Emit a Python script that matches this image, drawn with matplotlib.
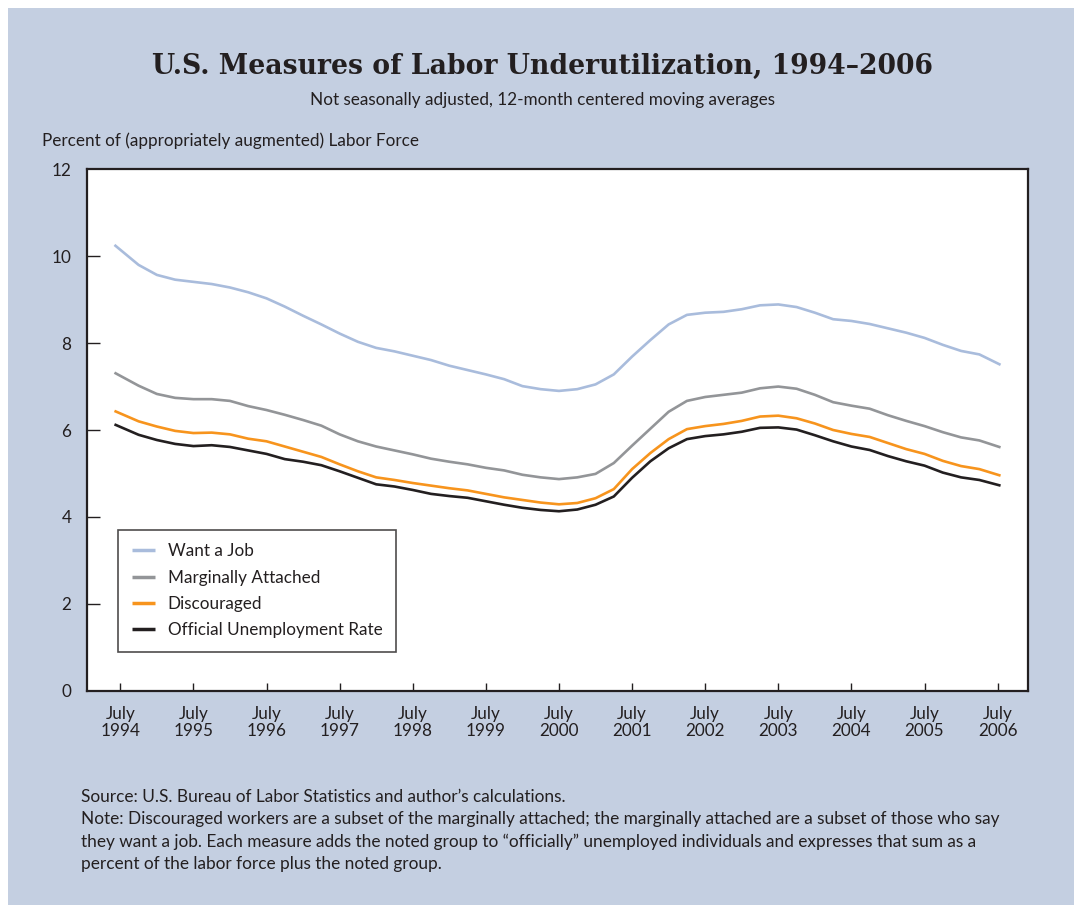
import matplotlib
matplotlib.use("Agg")
import matplotlib.pyplot as plt
from matplotlib.patches import Rectangle

# dates as fractional years (mid-1994 to mid-2006), values in percent
dates = [1994.42, 1994.75, 1995.00, 1995.25, 1995.50, 1995.75, 1996.00, 1996.25,
         1996.50, 1996.75, 1997.00, 1997.25, 1997.50, 1997.75, 1998.00, 1998.25,
         1998.50, 1998.75, 1999.00, 1999.25, 1999.50, 1999.75, 2000.00, 2000.25,
         2000.50, 2000.75, 2001.00, 2001.25, 2001.50, 2001.75, 2002.00, 2002.25,
         2002.50, 2002.75, 2003.00, 2003.25, 2003.50, 2003.75, 2004.00, 2004.25,
         2004.50, 2004.75, 2005.00, 2005.25, 2005.50, 2005.75, 2006.00, 2006.25,
         2006.54]

want_job = [10.26, 9.80, 9.57, 9.46, 9.41, 9.36, 9.28, 9.17,
            9.03, 8.84, 8.63, 8.43, 8.22, 8.03, 7.89, 7.81,
            7.71, 7.61, 7.48, 7.38, 7.28, 7.17, 7.01, 6.94,
            6.90, 6.94, 7.05, 7.28, 7.69, 8.07, 8.43, 8.65,
            8.70, 8.72, 8.78, 8.87, 8.89, 8.83, 8.70, 8.55,
            8.51, 8.44, 8.34, 8.24, 8.12, 7.96, 7.82, 7.74,
            7.50]

marginal = [7.32, 7.02, 6.83, 6.74, 6.71, 6.71, 6.67, 6.55,
            6.46, 6.35, 6.23, 6.10, 5.90, 5.74, 5.62, 5.53,
            5.44, 5.34, 5.27, 5.21, 5.13, 5.07, 4.97, 4.91,
            4.87, 4.91, 4.99, 5.24, 5.64, 6.03, 6.42, 6.67,
            6.76, 6.81, 6.86, 6.96, 7.00, 6.95, 6.81, 6.64,
            6.56, 6.49, 6.34, 6.21, 6.09, 5.95, 5.83, 5.76,
            5.60]

discouraged = [6.44, 6.20, 6.08, 5.98, 5.93, 5.94, 5.90, 5.80,
               5.74, 5.62, 5.50, 5.38, 5.21, 5.05, 4.91, 4.85,
               4.78, 4.72, 4.66, 4.61, 4.53, 4.45, 4.39, 4.33,
               4.29, 4.32, 4.43, 4.64, 5.10, 5.47, 5.79, 6.02,
               6.09, 6.14, 6.21, 6.31, 6.33, 6.27, 6.15, 6.00,
               5.91, 5.84, 5.70, 5.56, 5.45, 5.29, 5.17, 5.10,
               4.95]

official = [6.13, 5.89, 5.77, 5.68, 5.63, 5.65, 5.61, 5.53,
            5.45, 5.33, 5.27, 5.19, 5.05, 4.90, 4.75, 4.70,
            4.62, 4.53, 4.48, 4.44, 4.36, 4.28, 4.21, 4.16,
            4.13, 4.17, 4.28, 4.47, 4.90, 5.28, 5.58, 5.79,
            5.86, 5.90, 5.96, 6.05, 6.06, 6.01, 5.88, 5.74,
            5.62, 5.54, 5.40, 5.28, 5.18, 5.02, 4.91, 4.85,
            4.72]

series_names = ["Want a Job", "Marginally Attached", "Discouraged",
                "Official Unemployment Rate"]
series_colors = ["#a9bcdc", "#939598", "#f7941d", "#231f20"]

tick_years = list(range(1994, 2007))
tick_labels = ["July\n%d" % y for y in tick_years]

bg = "#c4cfe1"
ink = "#231f20"
sans = ["Lato", "DejaVu Sans"]
fs = 12.3

fig = plt.figure(figsize=(10.74, 9.05), dpi=100, facecolor="white")
fig.patches.append(Rectangle((8 / 1074, 0), 1, (905 - 8) / 905,
                             transform=fig.transFigure, facecolor=bg,
                             edgecolor="none", zorder=-10))

ax = fig.add_axes([0.0807, 0.2368, 0.8768, 0.5761])
ax.set_facecolor("white")

for vals, name, col in zip([want_job, marginal, discouraged, official],
                           series_names, series_colors):
    ax.plot(dates, vals, color=col, lw=1.9, label=name, solid_capstyle="butt")

ax.set_xlim(1994.04, 2006.92)
ax.set_ylim(0, 12)
ax.set_xticks([y + 0.5 for y in tick_years])
ax.set_xticklabels(tick_labels, family=sans, fontsize=fs, color=ink,
                   linespacing=1.1)
ax.set_yticks([0, 2, 4, 6, 8, 10, 12])
ax.set_yticklabels(["0", "2", "4", "6", "8", "10", "12"], family=sans,
                   fontsize=fs, color=ink)
ax.tick_params(axis="x", direction="in", length=6, width=1, color=ink, pad=11)
ax.tick_params(axis="y", direction="in", length=9, width=1, color=ink, pad=11)
# no tick marks at 0 and 12, they sit on the frame
yt = ax.yaxis.get_major_ticks()
yt[0].tick1line.set_visible(False)
yt[-1].tick1line.set_visible(False)
for s in ax.spines.values():
    s.set_linewidth(1.6)
    s.set_color(ink)

leg = ax.legend(loc="lower left", bbox_to_anchor=(0.0336, 0.0748),
                borderaxespad=0, frameon=True, fancybox=False,
                prop={"family": sans, "size": fs}, handlelength=1.35,
                handletextpad=0.75, labelspacing=0.6, borderpad=0.8)
leg.get_frame().set_edgecolor(ink)
leg.get_frame().set_linewidth(1.2)
for t in leg.get_texts():
    t.set_color(ink)
for h in leg.get_lines():
    h.set_linewidth(2.5)

fig.text(543 / 1074, 1 - 66 / 905,
         "U.S. Measures of Labor Underutilization, 1994\u20132006",
         ha="center", va="center", family="DejaVu Serif", weight="bold",
         fontsize=19.2, color=ink)
fig.text(543 / 1074, 1 - 100 / 905,
         "Not seasonally adjusted, 12-month centered moving averages",
         ha="center", va="center", family=sans, fontsize=fs, color=ink)
fig.text(42 / 1074, 1 - 141 / 905,
         "Percent of (appropriately augmented) Labor Force",
         ha="left", va="center", family=sans, fontsize=fs, color=ink)

notes = [
    "Source: U.S. Bureau of Labor Statistics and author\u2019s calculations.",
    "Note: Discouraged workers are a subset of the marginally attached; the marginally attached are a subset of those who say",
    "they want a job. Each measure adds the noted group to \u201cofficially\u201d unemployed individuals and expresses that sum as a",
    "percent of the labor force plus the noted group.",
]
for i, line in enumerate(notes):
    fig.text(81 / 1074, 1 - (797 + 22.2 * i) / 905, line, ha="left",
             va="center", family=sans, fontsize=12.4, color=ink)

fig.savefig("out.png", dpi=100, facecolor=fig.get_facecolor())
